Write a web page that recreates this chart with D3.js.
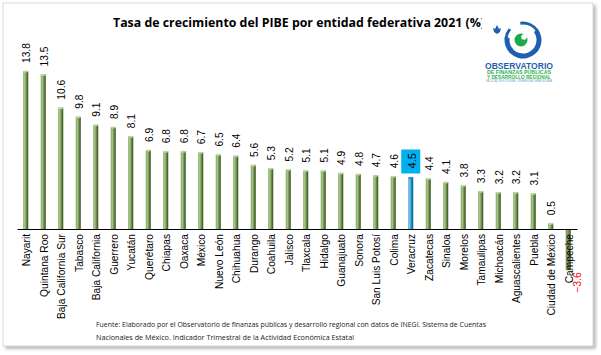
<!DOCTYPE html>
<html><head><meta charset="utf-8">
<script src="https://cdn.jsdelivr.net/npm/d3@7"></script>
<style>body{margin:0;background:#fff}svg{display:block}</style>
</head><body>
<script>
const categories = ["Nayarit","Quintana Roo","Baja California Sur","Tabasco","Baja California","Guerrero","Yucatán","Querétaro","Chiapas","Oaxaca","México","Nuevo León","Chihuahua","Durango","Coahuila","Jalisco","Tlaxcala","Hidalgo","Guanajuato","Sonora","San Luis Potosí","Colima","Veracruz","Zacatecas","Sinaloa","Morelos","Tamaulipas","Michoacán","Aguascalientes","Puebla","Ciudad de México","Campeche"];
const values = [13.8,13.5,10.6,9.8,9.1,8.9,8.1,6.9,6.8,6.8,6.7,6.5,6.4,5.6,5.3,5.2,5.1,5.1,4.9,4.8,4.7,4.6,4.5,4.4,4.1,3.8,3.3,3.2,3.2,3.1,0.5,-3.6];
const highlight = ["Veracruz"];
const title = "Tasa de crecimiento del PIBE por entidad federativa 2021 (%)";
const sourceLines = ["Fuente: Elaborado por el Observatorio de finanzas públicas y desarrollo regional con datos de INEGI. Sistema de Cuentas","Nacionales de México. Indicador Trimestral de la Actividad Económica Estatal"];

const W = 601, H = 355;
const svg = d3.select("body").append("svg").attr("width", W).attr("height", H);
const defs = svg.append("defs");
defs.append("filter").attr("id","sh").attr("x","-5%").attr("y","-5%").attr("width","110%").attr("height","110%")
  .append("feGaussianBlur").attr("stdDeviation", 1.5);
function grad(id, stops){
  const g = defs.append("linearGradient").attr("id", id).attr("x1","0").attr("x2","1").attr("y1","0").attr("y2","0");
  stops.forEach(s => g.append("stop").attr("offset", s[0]).attr("stop-color", s[1]));
}
grad("gGreen", [["0%","#7d9e5e"],["30%","#a9ca89"],["60%","#73934f"],["100%","#30491f"]]);
grad("gBlue", [["0%","#3a9fd4"],["30%","#7ecbf0"],["60%","#1d8fc9"],["100%","#0a5a86"]]);
grad("gNeg", [["0%","#5e7d40"],["30%","#8fae70"],["60%","#6e8e50"],["100%","#344d20"]]);

// frame with shadow
svg.append("rect").attr("x",5).attr("y",5).attr("width",591).attr("height",344).attr("fill","#bdbdbd").attr("filter","url(#sh)");
svg.append("rect").attr("x",3).attr("y",3).attr("width",590).attr("height",343).attr("fill","#fff").attr("stroke","#d9d9d9").attr("stroke-width",1);

const x = d3.scaleBand().domain(categories).range([17, 577]).paddingInner(0).paddingOuter(0);
const y = d3.scaleLinear().domain([-5, 15]).range([229 + 5*11.45, 229 - 15*11.45]);
const bw = 5;
const cx = d => x(d) + x.bandwidth()/2;

const data = categories.map((c,i) => ({c, v: values[i]}));

// bars
const g = svg.append("g");
g.selectAll("rect.bar").data(data).join("rect")
  .attr("x", d => cx(d.c) - bw/2)
  .attr("y", d => y(Math.max(0, d.v)))
  .attr("width", bw)
  .attr("height", d => Math.abs(y(d.v) - y(0)))
  .attr("fill", d => highlight.includes(d.c) ? "url(#gBlue)" : (d.v < 0 ? "url(#gNeg)" : "url(#gGreen)"));
// bar caps
g.selectAll("ellipse.cap").data(data.filter(d => d.v > 0)).join("ellipse")
  .attr("cx", d => cx(d.c)).attr("cy", d => y(d.v) + 0.5)
  .attr("rx", bw/2).attr("ry", 1)
  .attr("fill", d => highlight.includes(d.c) ? "#2b8dc2" : "#b9d89a");

// axis line
const ax = svg.append("g").attr("transform", `translate(0,${y(0)})`).call(d3.axisBottom(x).tickSize(0).tickFormat(""));
ax.select(".domain").attr("stroke","#000").attr("stroke-width",1.2);

// category labels
svg.append("g").selectAll("text").data(data).join("text")
  .attr("transform", d => `translate(${cx(d.c)+1},${y(0)+5}) rotate(-90)`)
  .attr("text-anchor","end").attr("dominant-baseline","central")
  .attr("font-family","Liberation Sans, Arial, sans-serif").attr("font-size", 10.2).attr("fill","#000")
  .text(d => d.c);

// value labels
const vl = svg.append("g");
data.forEach(d => {
  const isH = highlight.includes(d.c);
  if (d.v >= 0) {
    const ty = y(d.v) - 8;
    if (isH) {
      vl.append("rect").attr("x", cx(d.c) - 9.5).attr("y", ty - 20).attr("width", 19).attr("height", 24).attr("fill", "#00b0f0");
    }
    vl.append("text")
      .attr("transform", `translate(${cx(d.c)+1},${isH ? ty - 1 : ty}) rotate(-90)`)
      .attr("text-anchor","start").attr("dominant-baseline","central")
      .attr("font-family","Liberation Sans, Arial, sans-serif").attr("font-size", isH ? 11 : 10.2).attr("fill","#000")
      .text(d3.format(".1f")(d.v));
  } else {
    vl.append("text")
      .attr("transform", `translate(${cx(d.c)+9},${y(d.v) + 2}) rotate(-90)`)
      .attr("text-anchor","end").attr("dominant-baseline","central")
      .attr("font-family","Liberation Sans, Arial, sans-serif").attr("font-size", 10.5).attr("fill","#ff0000")
      .text(d3.format(".1f")(d.v));
  }
});

// title
svg.append("text").attr("x", 113).attr("y", 27)
  .attr("font-family","Open Sans, sans-serif").attr("font-weight",700).attr("font-size",12.5)
  .attr("textLength", 372).attr("lengthAdjust","spacingAndGlyphs").attr("fill","#000")
  .text(title);

// logo
const lg = svg.append("g");
lg.append("rect").attr("x",482).attr("y",12).attr("width",78).attr("height",74).attr("fill","#fff");
const arc = d3.arc();
lg.append("path").attr("transform","translate(523,40)")
  .attr("d", arc({innerRadius:13.5, outerRadius:18.5, startAngle: 0.3*Math.PI, endAngle: 1.55*Math.PI}))
  .attr("fill","#1f5fb0");
lg.append("path").attr("transform","translate(523,40)")
  .attr("d", arc({innerRadius:15.5, outerRadius:18.5, startAngle: -0.05*Math.PI, endAngle: 0.32*Math.PI}))
  .attr("fill","#1f5fb0");
lg.append("path").attr("transform","translate(523,40)")
  .attr("d", arc({innerRadius:15.5, outerRadius:18.5, startAngle: 1.53*Math.PI, endAngle: 1.72*Math.PI}))
  .attr("fill","#1f5fb0");
lg.append("circle").attr("cx",521).attr("cy",40).attr("r",6.5).attr("fill","#1aaa4a");
lg.append("circle").attr("cx",524).attr("cy",37).attr("r",2.8).attr("fill","#fff");
lg.append("path").attr("d","M497,25 L499,29 L501,28 L500,32 L497,34 L494,32 L493,28 L495,29 Z").attr("fill","#1f5fb0");
lg.append("text").attr("x",519).attr("y",69).attr("text-anchor","middle")
  .attr("font-family","Liberation Sans, Arial, sans-serif").attr("font-weight",700).attr("font-size",8.6)
  .attr("textLength",68).attr("lengthAdjust","spacingAndGlyphs").attr("fill","#1f5fb0").text("OBSERVATORIO");
lg.append("text").attr("x",519).attr("y",74).attr("text-anchor","middle")
  .attr("font-family","Liberation Sans, Arial, sans-serif").attr("font-weight",700).attr("font-size",4.6)
  .attr("textLength",64).attr("lengthAdjust","spacingAndGlyphs").attr("fill","#2bb34a").text("DE FINANZAS PÚBLICAS");
lg.append("text").attr("x",519).attr("y",78.5).attr("text-anchor","middle")
  .attr("font-family","Liberation Sans, Arial, sans-serif").attr("font-weight",700).attr("font-size",4.6)
  .attr("textLength",64).attr("lengthAdjust","spacingAndGlyphs").attr("fill","#2bb34a").text("Y DESARROLLO REGIONAL");
lg.append("text").attr("x",519).attr("y",81.5).attr("text-anchor","middle")
  .attr("font-family","Liberation Sans, Arial, sans-serif").attr("font-size",2.6)
  .attr("textLength",66).attr("lengthAdjust","spacingAndGlyphs").attr("fill","#6aa0c8").text("FACULTAD DE ECONOMÍA · UNIVERSIDAD VERACRUZANA");

// source
sourceLines.forEach((t,i) => {
  svg.append("text").attr("x",96).attr("y",327 + i*12.5)
    .attr("font-family","Open Sans, sans-serif").attr("font-size",7.4).attr("fill","#222")
    .attr("textLength", i===0 ? 390 : 258).attr("lengthAdjust","spacingAndGlyphs")
    .text(t);
});
</script>
</body></html>
